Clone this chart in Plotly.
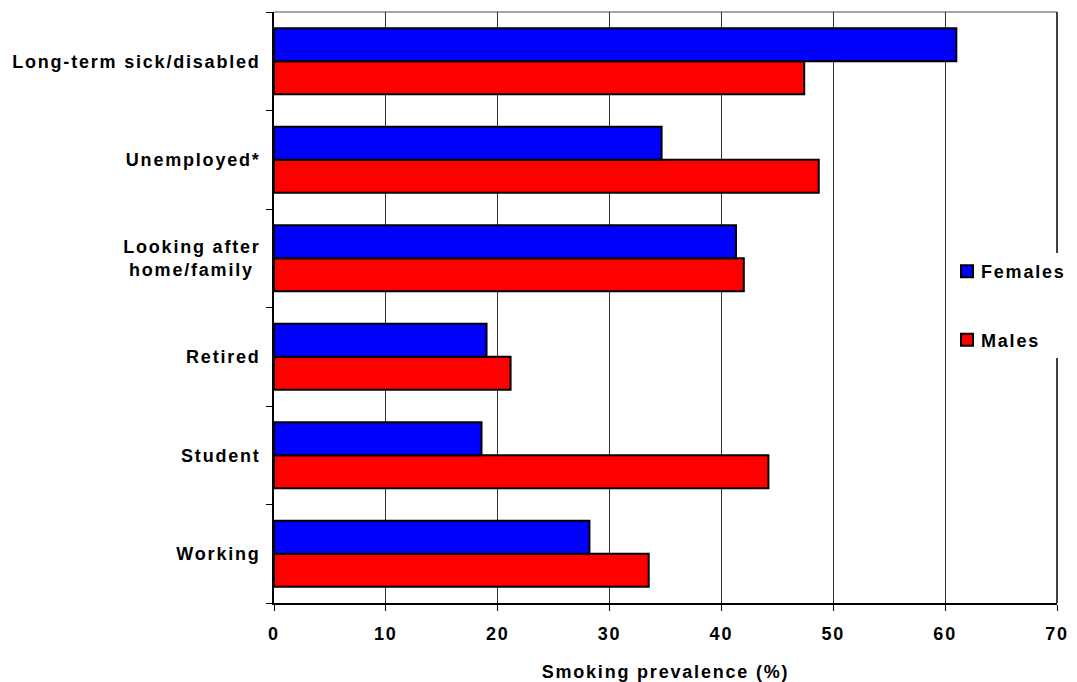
import plotly.graph_objects as go

# Economic activity groups, listed bottom-to-top as drawn on the category axis
categories = [
    "Working",
    "Student",
    "Retired",
    "Looking after<br>home/family\u00a0",
    "Unemployed*",
    "Long-term sick/disabled",
]
females = [28.2, 18.55, 19.0, 41.3, 34.65, 61.0]
males = [33.5, 44.2, 21.15, 42.0, 48.7, 47.4]
x_ticks = [0, 10, 20, 30, 40, 50, 60, 70]

FONT = "Liberation Sans, Arial, sans-serif"
FS = 18

fig = go.Figure()
fig.add_trace(go.Bar(
    y=categories, x=males, name="<b>Males</b>", orientation="h",
    marker=dict(color="#FF0000", line=dict(color="black", width=2)),
    legendgroup="m", legendrank=2,
))
fig.add_trace(go.Bar(
    y=categories, x=females, name="<b>Females</b>", orientation="h",
    marker=dict(color="#0000FF", line=dict(color="black", width=2)),
    legendgroup="f", legendrank=1,
))

fig.update_layout(
    width=1077, height=682,
    margin=dict(l=274, r=17, t=12, b=79),
    paper_bgcolor="white", plot_bgcolor="white",
    barmode="group", bargap=0.33, bargroupgap=0,
    font=dict(family=FONT, size=FS, color="black"),
    showlegend=True,
    legend=dict(
        x=0.8595, y=0.592, xanchor="left", yanchor="top",
        bgcolor="white", borderwidth=0,
        traceorder="grouped", tracegroupgap=42,
        font=dict(family=FONT, size=FS, color="black"),
        itemwidth=30,
    ),
    xaxis=dict(
        range=[0, 70], tickvals=x_ticks,
        ticktext=[f"<b>{v}</b>" for v in x_ticks],
        showgrid=True, gridcolor="#333333", gridwidth=1,
        showline=True, linecolor="black", linewidth=1.5, mirror=False,
        ticks="outside", ticklen=6, tickcolor="black",
        ticklabelstandoff=8, automargin=False,
        zeroline=False,
        title=dict(text="<b>Smoking prevalence (%)</b>", standoff=22,
                   font=dict(family=FONT, size=FS)),
        tickfont=dict(family=FONT, size=FS),
    ),
    yaxis=dict(
        type="category", categoryorder="array", categoryarray=categories,
        tickvals=categories,
        ticktext=[f"<b>{c}</b>" for c in categories],
        showgrid=False, automargin=False,
        showline=True, linecolor="black", linewidth=1.5,
        ticks="outside", ticklen=6, tickcolor="black", tickson="boundaries",
        ticklabelstandoff=8,
        tickfont=dict(family=FONT, size=FS),
    ),
)

# Plot-area frame: grey top edge and black right edge
fig.add_shape(type="line", xref="paper", yref="paper", x0=0, x1=1, y0=1, y1=1,
              line=dict(color="#888888", width=1.5), layer="below")
fig.add_shape(type="line", xref="paper", yref="paper", x0=1, x1=1, y0=0, y1=1,
              line=dict(color="black", width=1.5), layer="below")

# Slightly tracked-out lettering for all chart text; legend labels sit
# close to their swatches and are not clipped by the legend box
spacing_css = (
    "var s=document.createElement('style');"
    "s.textContent='.xtick text,.ytick text,.legendtext,.g-xtitle text'"
    "+'{letter-spacing:1.8px}'"
    "+'.legendtext{transform:translateX(-6px)}'"
    "+'.legend .scrollbox{clip-path:none !important}';"
    "document.head.appendChild(s);"
)
fig.write_html("out.html", post_script=spacing_css)
